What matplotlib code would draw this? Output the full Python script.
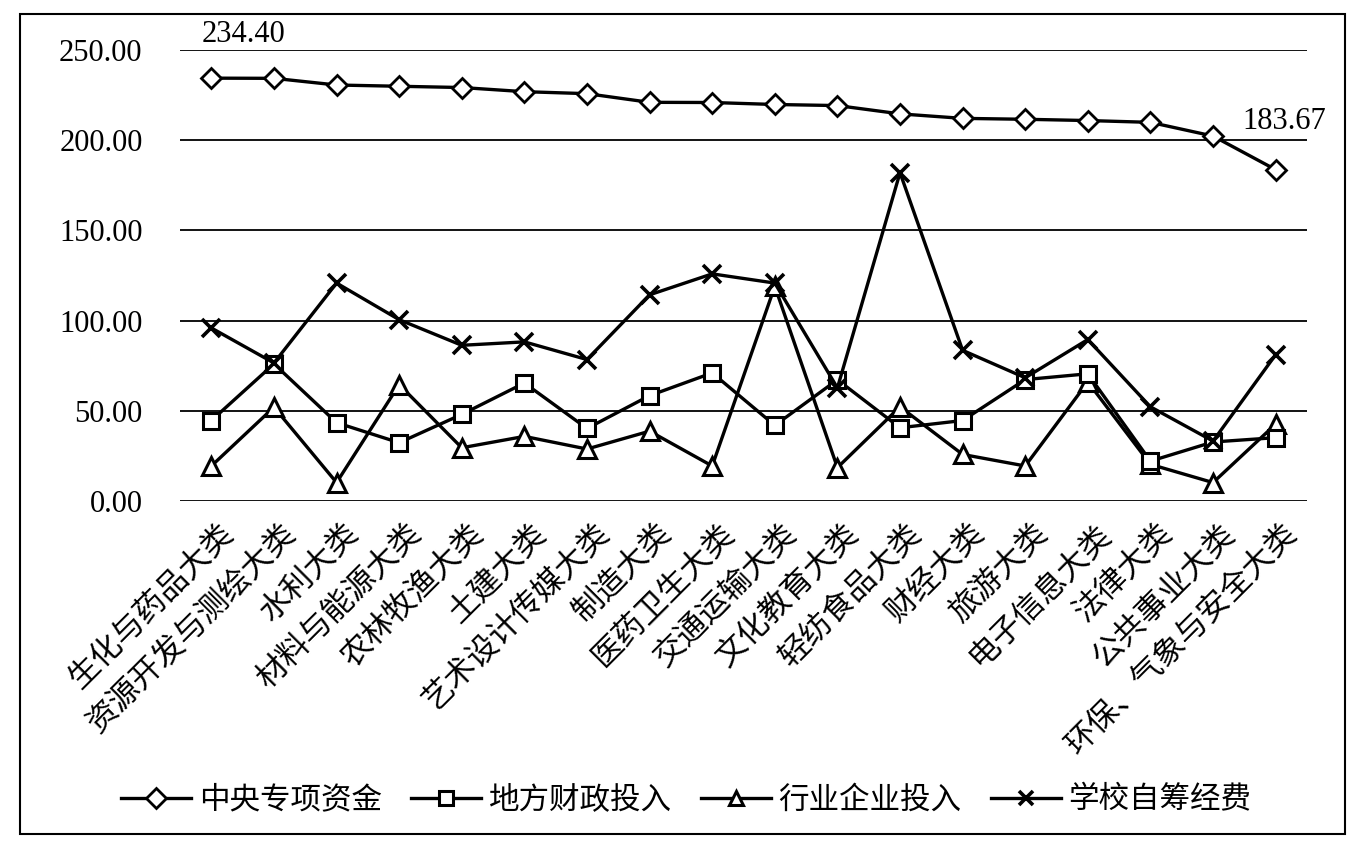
import matplotlib
matplotlib.use('Agg')
import matplotlib.pyplot as plt
from matplotlib.patches import Rectangle

# categories (x axis)
categories = ['生化与药品大类', '资源开发与测绘大类', '水利大类', '材料与能源大类',
              '农林牧渔大类', '土建大类', '艺术设计传媒大类', '制造大类', '医药卫生大类',
              '交通运输大类', '文化教育大类', '轻纺食品大类', '财经大类', '旅游大类',
              '电子信息大类', '法律大类', '公共事业大类', '环保、气象与安全大类']

# series values
central = [234.40, 234.3, 230.6, 229.9, 229.2, 226.9, 225.8, 221.0, 220.9,
           219.8, 219.2, 214.6, 212.1, 211.6, 210.9, 209.9, 202.3, 183.67]
local = [44.6, 76.0, 43.4, 32.3, 48.0, 65.4, 40.2, 58.4, 71.0,
         41.9, 67.2, 40.6, 44.6, 67.3, 70.5, 22.1, 32.7, 35.1]
industry = [19.4, 52.0, 10.2, 64.5, 29.5, 35.8, 28.8, 38.7, 19.4,
            119.0, 18.5, 52.2, 25.8, 19.4, 66.0, 20.3, 10.2, 42.6]
school = [95.9, 76.5, 120.8, 100.5, 86.3, 88.2, 78.4, 114.3, 125.9,
          120.8, 62.7, 182.0, 83.5, 68.3, 89.5, 52.2, 33.2, 81.1]

series_names = ['中央专项资金', '地方财政投入', '行业企业投入', '学校自筹经费']
yticks = [0, 50, 100, 150, 200, 250]

cjk = ['Noto Sans CJK SC', 'DejaVu Sans']
num_font = 'Liberation Serif'
fs = 22

fig = plt.figure(figsize=(13.59, 8.52), dpi=100)
ax = fig.add_axes([0.1325, 0.412, 0.8292, 0.5293])

# outer frame
fig.patches.append(Rectangle((20/1359, 18/852), 1325/1359, 820/852,
                             transform=fig.transFigure, fill=False,
                             edgecolor='black', linewidth=1.5))

x = list(range(len(categories)))
lw = 2.4
ax.plot(x, central, '-', color='black', lw=lw, marker='D', ms=10,
        mfc='white', mec='black', mew=2, label=series_names[0], zorder=5)
ax.plot(x, local, '-', color='black', lw=lw, marker='s', ms=12,
        mfc='white', mec='black', mew=2.2, label=series_names[1], zorder=4)
ax.plot(x, industry, '-', color='black', lw=lw, marker='^', ms=13,
        mfc='white', mec='black', mew=2.2, label=series_names[2], zorder=3)
ax.plot(x, school, '-', color='black', lw=lw, marker='x', ms=13,
        mec='black', mew=2.6, label=series_names[3], zorder=6)

# data labels on first and last central points
ax.annotate('%.2f' % central[0], (x[0], central[0]), xytext=(23, 21),
            textcoords='offset points', ha='center', va='bottom',
            fontsize=fs, family=num_font)
ax.annotate('%.2f' % central[-1], (x[-1], central[-1]), xytext=(6, 24),
            textcoords='offset points', ha='center', va='bottom',
            fontsize=fs, family=num_font)

ax.set_xlim(-0.5, len(categories) - 0.5)
ax.set_ylim(0, 250)
ax.set_yticks(yticks)
ax.set_yticklabels(['%.2f' % v for v in yticks], fontsize=fs, family=num_font)
ax.yaxis.grid(True, color='black', lw=1.3)
ax.set_axisbelow(True)
ax.tick_params(axis='y', length=0, pad=27)
ax.tick_params(axis='x', length=0, pad=12)
for s in ax.spines.values():
    s.set_visible(False)

ax.set_xticks(x)
ax.set_xticklabels(categories, rotation=45, ha='right', va='top',
                   rotation_mode='anchor', fontsize=fs + 0.5, family=cjk)
for lab in ax.get_xticklabels():
    lab.set_transform(lab.get_transform() +
                      matplotlib.transforms.ScaledTranslation(0.06, 0.0, fig.dpi_scale_trans))

leg = fig.legend(loc='center', bbox_to_anchor=(0.505, 0.061), ncol=4,
                 frameon=False, prop={'family': cjk, 'size': fs},
                 handlelength=2.3, handletextpad=0.25, columnspacing=0.95)
for h in leg.legend_handles:
    h.set_markersize(10)

fig.savefig('out.png', dpi=100)
